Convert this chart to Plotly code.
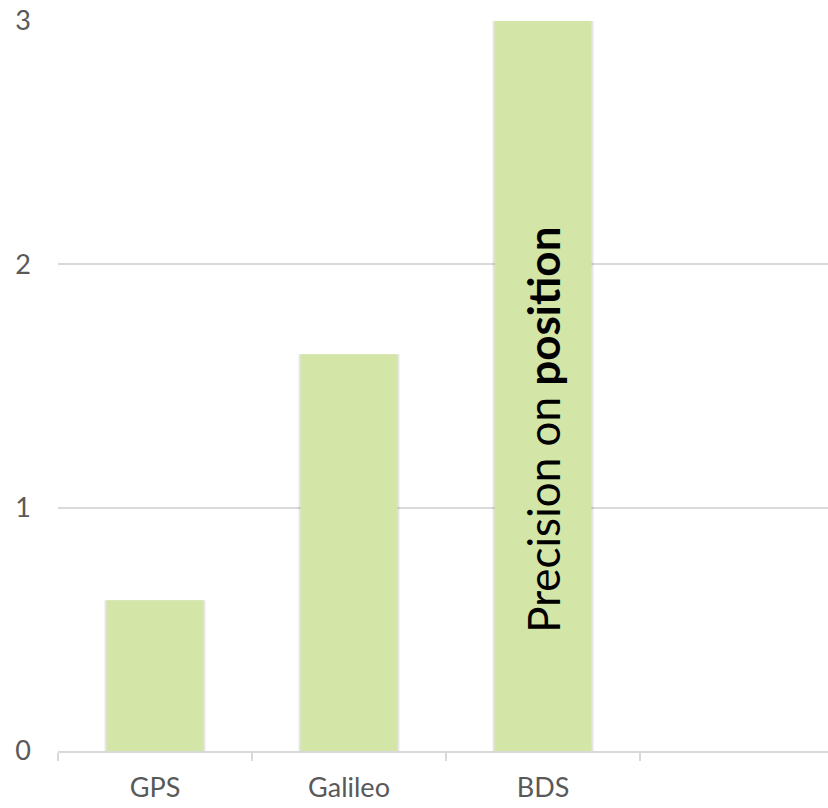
import plotly.graph_objects as go

systems = ["GPS", "Galileo", "BDS"]
precision = [0.62, 1.63, 3.2]
y_ticks = [0, 1, 2, 3]

bar_color = "#d4e5a8"
grid_color = "#d9d9d9"
label_color = "#595959"
font_family = "Lato, Carlito, Calibri, sans-serif"

fig = go.Figure()
# soft shadow behind bars
fig.add_trace(go.Bar(
    x=systems, y=precision, width=0.52,
    marker=dict(color="rgba(0,0,0,0.10)", line=dict(width=0)),
    hoverinfo="skip", showlegend=False,
))
fig.add_trace(go.Bar(
    x=systems, y=precision, width=0.5,
    marker=dict(color=bar_color, line=dict(width=0)),
    showlegend=False,
))

fig.add_annotation(
    x="BDS", y=1.32, xref="x", yref="y",
    text="Precision on <b>position</b>",
    textangle=-90, showarrow=False,
    font=dict(family=font_family, size=44, color="#000000"),
)

fig.update_layout(
    width=828, height=808,
    margin=dict(l=58, r=0, t=21, b=57),
    paper_bgcolor="white", plot_bgcolor="white",
    barmode="overlay",
    font=dict(family=font_family, size=27, color=label_color),
    xaxis=dict(
        type="category", categoryorder="array", categoryarray=systems,
        range=[-0.5, 3.469],
        showgrid=False, zeroline=False,
        showline=True, linecolor=grid_color, linewidth=2,
        ticks="outside", tickson="boundaries", ticklen=8,
        tickcolor=grid_color, tickwidth=2,
        ticklabelstandoff=12,
        tickfont=dict(family=font_family, size=27, color=label_color),
    ),
    yaxis=dict(
        range=[0, 3], tickvals=y_ticks,
        showgrid=True, gridcolor=grid_color, gridwidth=2,
        zeroline=False, showline=False, ticks="",
        ticklabelstandoff=26,
        tickfont=dict(family=font_family, size=27, color=label_color),
    ),
)

fig.write_html("out.html")
